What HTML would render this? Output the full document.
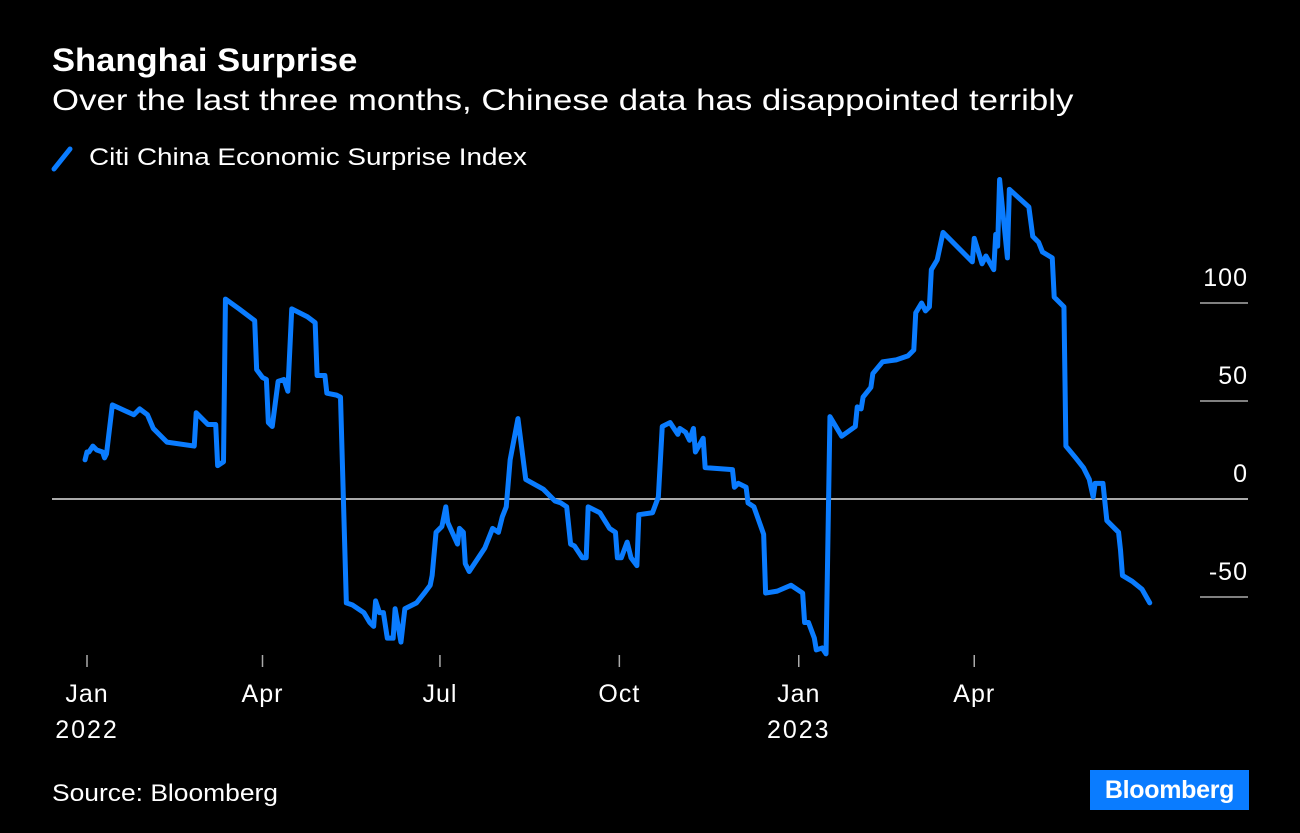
<!DOCTYPE html>
<html><head><meta charset="utf-8"><style>
body{margin:0;background:#000;width:1300px;height:833px;overflow:hidden;font-family:"Liberation Sans",sans-serif;color:#fff}
.t{position:absolute;white-space:nowrap;transform-origin:0 0}
</style></head><body>
<div class="t" style="left:52px;top:42px;font-size:32px;font-weight:bold;transform:scaleX(1.08)">Shanghai Surprise</div>
<div class="t" style="left:52px;top:84px;font-size:30px;transform:scaleX(1.16)">Over the last three months, Chinese data has disappointed terribly</div>
<svg width="26" height="30" style="position:absolute;left:50px;top:144px"><line x1="4" y1="25" x2="20" y2="5" stroke="#0a7cff" stroke-width="5" stroke-linecap="round"/></svg>
<div class="t" style="left:89px;top:144px;font-size:24px;transform:scaleX(1.16)">Citi China Economic Surprise Index</div>
<svg id="chart" width="1300" height="833" style="position:absolute;left:0;top:0"></svg>
<div class="t" style="left:52px;top:780px;font-size:24px;transform:scaleX(1.1)">Source: Bloomberg</div>
<div class="t" style="left:1090px;top:770px;width:159px;height:40px;background:#0a7cff;font-size:25px;font-weight:bold;line-height:40px;text-align:center;letter-spacing:-0.3px">Bloomberg</div>
<script>
const days=[-1,0,1,3,5,8,9,10,13,24,27,31,34,36,41,55,56,59,62,66,67,70,71,78,86,87,90,92,93,95,98,101,103,105,113,117,118,122,123,128,130,133,136,142,145,147,148,150,152,154,157,158,161,163,169,173,176,177,179,182,184,185,190,191,193,194,196,204,208,211,213,215,217,221,225,234,240,243,246,248,250,254,256,257,263,268,271,272,274,277,279,282,283,290,293,295,299,303,304,307,309,311,312,316,317,331,332,334,338,339,342,347,348,354,361,367,368,370,373,374,377,379,381,387,394,395,397,398,402,403,408,415,421,424,425,428,430,432,433,436,439,454,455,459,461,465,466,467,468,472,473,483,485,488,490,495,496,501,502,507,511,514,516,517,521,523,526,529,530,531,536,541,545];
const values=[20,24,24,27,25,24,21,23,48,43,46,43,36,34,29,27,44,41,38,38,17,19,102,97,91,66,62,61,39,37,60,61,55,97,93,90,63,63,54,53,52,-53,-54,-58,-63,-65,-52,-58,-58,-71,-71,-56,-73,-56,-53,-48,-44,-39,-17,-14,-4,-12,-23,-15,-17,-33,-37,-25,-15,-17,-9,-4,20,41,10,5,-1,-2,-4,-23,-24,-30,-30,-4,-7,-15,-17,-30,-30,-22,-30,-34,-8,-7,1,37,39,33,36,34,30,36,24,31,16,15,6,8,6,-2,-4,-18,-48,-47,-44,-48,-63,-63,-71,-77,-76,-79,42,32,37,47,46,52,57,64,70,71,73,76,95,100,96,98,117,122,136,121,133,120,124,117,135,129,163,123,158,149,134,131,126,123,103,98,27,21,16,10,1,8,8,-11,-14,-17,-26,-39,-42,-46,-53];
const yTicks=[100,50,0,-50];
const xTickDays=[0,90,181,273,365,455];
const xTickLabels=["Jan","Apr","Jul","Oct","Jan","Apr"];
const yearLabels=["2022","","","","2023",""];
const NS="http://www.w3.org/2000/svg";
const svg=document.getElementById('chart');
const X=d=>87+d*1.95, Y=v=>499-v*1.96;
const FONT='Liberation Sans, sans-serif';
function mk(t,a){const e=document.createElementNS(NS,t);for(const k in a)e.setAttribute(k,a[k]);svg.appendChild(e);return e;}
yTicks.forEach(v=>{
  const l=mk('line',{x1:v===0?52:1200,x2:1248,y1:Y(v),y2:Y(v),stroke:'#aaa','stroke-width':v===0?2:1.5});
  
  
  const t=mk('text',{x:1248,y:Y(v)-17,'text-anchor':'end',fill:'#fff','font-size':25,'letter-spacing':1,'font-family':FONT});
  t.textContent=v;
  
  
});
xTickDays.forEach((d,i)=>{
  const l=mk('line',{x1:X(d),x2:X(d),y1:655,y2:667,stroke:'#aaa','stroke-width':1.5});
  
  
  const t=mk('text',{x:X(d),y:702,'text-anchor':'middle',fill:'#fff','font-size':25,'letter-spacing':1,'font-family':FONT});
  t.textContent=xTickLabels[i];
  
  
  if(yearLabels[i]){
    const y=mk('text',{x:X(d),y:738,'text-anchor':'middle',fill:'#fff','font-size':25,'letter-spacing':2,'font-family':FONT});
    y.textContent=yearLabels[i];
    
    
  }
});
const p=mk('polyline',{points:days.map((d,i)=>X(d)+','+Y(values[i])).join(' '),fill:'none',stroke:'#0a7cff','stroke-width':5,'stroke-linejoin':'round','stroke-linecap':'round'});


</script>
</body></html>
